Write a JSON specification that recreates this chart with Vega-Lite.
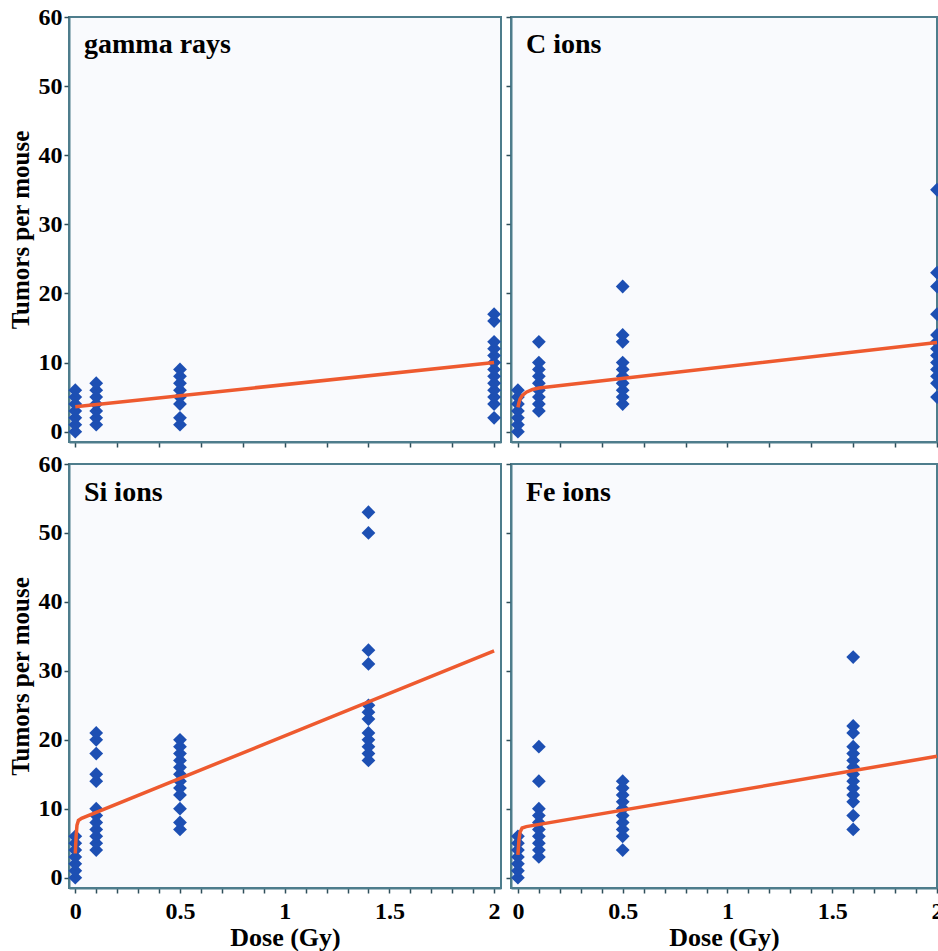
{
  "$schema": "https://vega.github.io/schema/vega-lite/v6.json",
  "background": "white",
  "padding": {"left": 7, "top": 4, "right": 0, "bottom": 0},
  "bounds": "flush",
  "columns": 2,
  "spacing": {"row": 22, "column": 10},
  "config": {
    "view": {"stroke": "#4e7d8c", "strokeWidth": 2, "fill": "#f9fafd"},
    "axis": {
      "domainColor": "#4e7d8c", "domainWidth": 2, "tickColor": "#2f4f5a", "tickWidth": 1.5, "tickSize": 5,
      "grid": false, "labelFont": "Liberation Serif", "labelFontSize": 24, "labelFontWeight": "bold", "labelColor": "black",
      "titleFont": "Liberation Serif", "titleFontSize": 25, "titleFontWeight": "bold", "titleColor": "black",
      "labelBound": false, "labelFlush": false
    },
    "title": {"font": "Liberation Serif", "fontSize": 28, "fontWeight": "bold", "color": "black", "anchor": "start", "frame": "group"}
  },
  "datasets": {
    "points": [
      {"panel": "gamma rays", "dose": 0, "tumors": 0}, {"panel": "gamma rays", "dose": 0, "tumors": 1}, {"panel": "gamma rays", "dose": 0, "tumors": 2}, {"panel": "gamma rays", "dose": 0, "tumors": 3}, {"panel": "gamma rays", "dose": 0, "tumors": 4}, {"panel": "gamma rays", "dose": 0, "tumors": 5}, {"panel": "gamma rays", "dose": 0, "tumors": 6},
      {"panel": "gamma rays", "dose": 0.1, "tumors": 1}, {"panel": "gamma rays", "dose": 0.1, "tumors": 2}, {"panel": "gamma rays", "dose": 0.1, "tumors": 3}, {"panel": "gamma rays", "dose": 0.1, "tumors": 4}, {"panel": "gamma rays", "dose": 0.1, "tumors": 5}, {"panel": "gamma rays", "dose": 0.1, "tumors": 6}, {"panel": "gamma rays", "dose": 0.1, "tumors": 7},
      {"panel": "gamma rays", "dose": 0.5, "tumors": 1}, {"panel": "gamma rays", "dose": 0.5, "tumors": 2}, {"panel": "gamma rays", "dose": 0.5, "tumors": 4}, {"panel": "gamma rays", "dose": 0.5, "tumors": 5}, {"panel": "gamma rays", "dose": 0.5, "tumors": 6}, {"panel": "gamma rays", "dose": 0.5, "tumors": 7}, {"panel": "gamma rays", "dose": 0.5, "tumors": 8}, {"panel": "gamma rays", "dose": 0.5, "tumors": 9},
      {"panel": "gamma rays", "dose": 2, "tumors": 2}, {"panel": "gamma rays", "dose": 2, "tumors": 4}, {"panel": "gamma rays", "dose": 2, "tumors": 5}, {"panel": "gamma rays", "dose": 2, "tumors": 6}, {"panel": "gamma rays", "dose": 2, "tumors": 7}, {"panel": "gamma rays", "dose": 2, "tumors": 8}, {"panel": "gamma rays", "dose": 2, "tumors": 9}, {"panel": "gamma rays", "dose": 2, "tumors": 10}, {"panel": "gamma rays", "dose": 2, "tumors": 11}, {"panel": "gamma rays", "dose": 2, "tumors": 12}, {"panel": "gamma rays", "dose": 2, "tumors": 13}, {"panel": "gamma rays", "dose": 2, "tumors": 16}, {"panel": "gamma rays", "dose": 2, "tumors": 17},

      {"panel": "C ions", "dose": 0, "tumors": 0}, {"panel": "C ions", "dose": 0, "tumors": 1}, {"panel": "C ions", "dose": 0, "tumors": 2}, {"panel": "C ions", "dose": 0, "tumors": 3}, {"panel": "C ions", "dose": 0, "tumors": 4}, {"panel": "C ions", "dose": 0, "tumors": 5}, {"panel": "C ions", "dose": 0, "tumors": 6},
      {"panel": "C ions", "dose": 0.1, "tumors": 3}, {"panel": "C ions", "dose": 0.1, "tumors": 4}, {"panel": "C ions", "dose": 0.1, "tumors": 5}, {"panel": "C ions", "dose": 0.1, "tumors": 6}, {"panel": "C ions", "dose": 0.1, "tumors": 7}, {"panel": "C ions", "dose": 0.1, "tumors": 8}, {"panel": "C ions", "dose": 0.1, "tumors": 9}, {"panel": "C ions", "dose": 0.1, "tumors": 10}, {"panel": "C ions", "dose": 0.1, "tumors": 13},
      {"panel": "C ions", "dose": 0.5, "tumors": 4}, {"panel": "C ions", "dose": 0.5, "tumors": 5}, {"panel": "C ions", "dose": 0.5, "tumors": 6}, {"panel": "C ions", "dose": 0.5, "tumors": 7}, {"panel": "C ions", "dose": 0.5, "tumors": 8}, {"panel": "C ions", "dose": 0.5, "tumors": 9}, {"panel": "C ions", "dose": 0.5, "tumors": 10}, {"panel": "C ions", "dose": 0.5, "tumors": 13}, {"panel": "C ions", "dose": 0.5, "tumors": 14}, {"panel": "C ions", "dose": 0.5, "tumors": 21},
      {"panel": "C ions", "dose": 2, "tumors": 5}, {"panel": "C ions", "dose": 2, "tumors": 7}, {"panel": "C ions", "dose": 2, "tumors": 8}, {"panel": "C ions", "dose": 2, "tumors": 9}, {"panel": "C ions", "dose": 2, "tumors": 10}, {"panel": "C ions", "dose": 2, "tumors": 11}, {"panel": "C ions", "dose": 2, "tumors": 12}, {"panel": "C ions", "dose": 2, "tumors": 13}, {"panel": "C ions", "dose": 2, "tumors": 14}, {"panel": "C ions", "dose": 2, "tumors": 17}, {"panel": "C ions", "dose": 2, "tumors": 21}, {"panel": "C ions", "dose": 2, "tumors": 23}, {"panel": "C ions", "dose": 2, "tumors": 35},

      {"panel": "Si ions", "dose": 0, "tumors": 0}, {"panel": "Si ions", "dose": 0, "tumors": 1}, {"panel": "Si ions", "dose": 0, "tumors": 2}, {"panel": "Si ions", "dose": 0, "tumors": 3}, {"panel": "Si ions", "dose": 0, "tumors": 4}, {"panel": "Si ions", "dose": 0, "tumors": 5}, {"panel": "Si ions", "dose": 0, "tumors": 6},
      {"panel": "Si ions", "dose": 0.1, "tumors": 4}, {"panel": "Si ions", "dose": 0.1, "tumors": 5}, {"panel": "Si ions", "dose": 0.1, "tumors": 6}, {"panel": "Si ions", "dose": 0.1, "tumors": 7}, {"panel": "Si ions", "dose": 0.1, "tumors": 8}, {"panel": "Si ions", "dose": 0.1, "tumors": 9}, {"panel": "Si ions", "dose": 0.1, "tumors": 10}, {"panel": "Si ions", "dose": 0.1, "tumors": 14}, {"panel": "Si ions", "dose": 0.1, "tumors": 15}, {"panel": "Si ions", "dose": 0.1, "tumors": 18}, {"panel": "Si ions", "dose": 0.1, "tumors": 20}, {"panel": "Si ions", "dose": 0.1, "tumors": 21},
      {"panel": "Si ions", "dose": 0.5, "tumors": 7}, {"panel": "Si ions", "dose": 0.5, "tumors": 8}, {"panel": "Si ions", "dose": 0.5, "tumors": 10}, {"panel": "Si ions", "dose": 0.5, "tumors": 12}, {"panel": "Si ions", "dose": 0.5, "tumors": 13}, {"panel": "Si ions", "dose": 0.5, "tumors": 14}, {"panel": "Si ions", "dose": 0.5, "tumors": 15}, {"panel": "Si ions", "dose": 0.5, "tumors": 16}, {"panel": "Si ions", "dose": 0.5, "tumors": 17}, {"panel": "Si ions", "dose": 0.5, "tumors": 18}, {"panel": "Si ions", "dose": 0.5, "tumors": 19}, {"panel": "Si ions", "dose": 0.5, "tumors": 20},
      {"panel": "Si ions", "dose": 1.4, "tumors": 17}, {"panel": "Si ions", "dose": 1.4, "tumors": 18}, {"panel": "Si ions", "dose": 1.4, "tumors": 19}, {"panel": "Si ions", "dose": 1.4, "tumors": 20}, {"panel": "Si ions", "dose": 1.4, "tumors": 21}, {"panel": "Si ions", "dose": 1.4, "tumors": 23}, {"panel": "Si ions", "dose": 1.4, "tumors": 24}, {"panel": "Si ions", "dose": 1.4, "tumors": 25}, {"panel": "Si ions", "dose": 1.4, "tumors": 31}, {"panel": "Si ions", "dose": 1.4, "tumors": 33}, {"panel": "Si ions", "dose": 1.4, "tumors": 50}, {"panel": "Si ions", "dose": 1.4, "tumors": 53},

      {"panel": "Fe ions", "dose": 0, "tumors": 0}, {"panel": "Fe ions", "dose": 0, "tumors": 1}, {"panel": "Fe ions", "dose": 0, "tumors": 2}, {"panel": "Fe ions", "dose": 0, "tumors": 3}, {"panel": "Fe ions", "dose": 0, "tumors": 4}, {"panel": "Fe ions", "dose": 0, "tumors": 5}, {"panel": "Fe ions", "dose": 0, "tumors": 6},
      {"panel": "Fe ions", "dose": 0.1, "tumors": 3}, {"panel": "Fe ions", "dose": 0.1, "tumors": 4}, {"panel": "Fe ions", "dose": 0.1, "tumors": 5}, {"panel": "Fe ions", "dose": 0.1, "tumors": 6}, {"panel": "Fe ions", "dose": 0.1, "tumors": 7}, {"panel": "Fe ions", "dose": 0.1, "tumors": 8}, {"panel": "Fe ions", "dose": 0.1, "tumors": 9}, {"panel": "Fe ions", "dose": 0.1, "tumors": 10}, {"panel": "Fe ions", "dose": 0.1, "tumors": 14}, {"panel": "Fe ions", "dose": 0.1, "tumors": 19},
      {"panel": "Fe ions", "dose": 0.5, "tumors": 4}, {"panel": "Fe ions", "dose": 0.5, "tumors": 6}, {"panel": "Fe ions", "dose": 0.5, "tumors": 7}, {"panel": "Fe ions", "dose": 0.5, "tumors": 8}, {"panel": "Fe ions", "dose": 0.5, "tumors": 9}, {"panel": "Fe ions", "dose": 0.5, "tumors": 10}, {"panel": "Fe ions", "dose": 0.5, "tumors": 11}, {"panel": "Fe ions", "dose": 0.5, "tumors": 12}, {"panel": "Fe ions", "dose": 0.5, "tumors": 13}, {"panel": "Fe ions", "dose": 0.5, "tumors": 14},
      {"panel": "Fe ions", "dose": 1.6, "tumors": 7}, {"panel": "Fe ions", "dose": 1.6, "tumors": 9}, {"panel": "Fe ions", "dose": 1.6, "tumors": 11}, {"panel": "Fe ions", "dose": 1.6, "tumors": 12}, {"panel": "Fe ions", "dose": 1.6, "tumors": 13}, {"panel": "Fe ions", "dose": 1.6, "tumors": 14}, {"panel": "Fe ions", "dose": 1.6, "tumors": 15}, {"panel": "Fe ions", "dose": 1.6, "tumors": 16}, {"panel": "Fe ions", "dose": 1.6, "tumors": 17}, {"panel": "Fe ions", "dose": 1.6, "tumors": 18}, {"panel": "Fe ions", "dose": 1.6, "tumors": 19}, {"panel": "Fe ions", "dose": 1.6, "tumors": 21}, {"panel": "Fe ions", "dose": 1.6, "tumors": 22}, {"panel": "Fe ions", "dose": 1.6, "tumors": 32}
    ],
    "fits": [
      {"panel": "gamma rays", "dose": 0, "tumors": 3.6}, {"panel": "gamma rays", "dose": 2, "tumors": 10.0},
      {"panel": "C ions", "dose": 0, "tumors": 3.5}, {"panel": "C ions", "dose": 0.005, "tumors": 4.2}, {"panel": "C ions", "dose": 0.01, "tumors": 4.7}, {"panel": "C ions", "dose": 0.02, "tumors": 5.2}, {"panel": "C ions", "dose": 0.04, "tumors": 5.7}, {"panel": "C ions", "dose": 0.07, "tumors": 6.1}, {"panel": "C ions", "dose": 0.1, "tumors": 6.3}, {"panel": "C ions", "dose": 2, "tumors": 12.9},
      {"panel": "Si ions", "dose": 0, "tumors": 3.5}, {"panel": "Si ions", "dose": 0.004, "tumors": 6.0}, {"panel": "Si ions", "dose": 0.008, "tumors": 7.6}, {"panel": "Si ions", "dose": 0.015, "tumors": 8.3}, {"panel": "Si ions", "dose": 0.03, "tumors": 8.6}, {"panel": "Si ions", "dose": 2, "tumors": 32.9},
      {"panel": "Fe ions", "dose": 0, "tumors": 3.3}, {"panel": "Fe ions", "dose": 0.005, "tumors": 5.5}, {"panel": "Fe ions", "dose": 0.01, "tumors": 6.6}, {"panel": "Fe ions", "dose": 0.02, "tumors": 7.2}, {"panel": "Fe ions", "dose": 0.04, "tumors": 7.4}, {"panel": "Fe ions", "dose": 2, "tumors": 17.6}
    ]
  },
  "concat": [
    {
      "width": 432, "height": 425,
      "title": {"text": "gamma rays", "offset": -54, "dx": 15},
      "layer": [
        {"data": {"name": "points"}, "transform": [{"filter": "datum.panel === 'gamma rays'"}],
         "mark": {"type": "point", "shape": "diamond", "filled": true, "size": 190, "color": "#1d4fb3", "opacity": 1},
         "encoding": {
           "x": {"field": "dose", "type": "quantitative", "scale": {"domain": [-0.03, 2.033], "nice": false, "zero": false},
                 "axis": {"values": [0,0.1,0.2,0.3,0.4,0.5,0.6,0.7,0.8,0.9,1,1.1,1.2,1.3,1.4,1.5,1.6,1.7,1.8,1.9,2], "labels": false, "title": null}},
           "y": {"field": "tumors", "type": "quantitative", "scale": {"domain": [-1.5, 60], "nice": false, "zero": false},
                 "axis": {"values": [0,5,10,15,20,25,30,35,40,45,50,55,60], "format": "d", "labelExpr": "datum.value % 10 === 0 ? datum.label : ''", "labelPadding": 2, "title": "Tumors per mouse", "titlePadding": 5}}
         }},
        {"data": {"name": "fits"}, "transform": [{"filter": "datum.panel === 'gamma rays'"}],
         "mark": {"type": "line", "color": "#ee5a2f", "strokeWidth": 3.5},
         "encoding": {"x": {"field": "dose", "type": "quantitative"}, "y": {"field": "tumors", "type": "quantitative"}}}
      ]
    },
    {
      "width": 426, "height": 425,
      "title": {"text": "C ions", "offset": -43, "dx": 15},
      "layer": [
        {"data": {"name": "points"}, "transform": [{"filter": "datum.panel === 'C ions'"}],
         "mark": {"type": "point", "shape": "diamond", "filled": true, "size": 190, "color": "#1d4fb3", "opacity": 1},
         "encoding": {
           "x": {"field": "dose", "type": "quantitative", "scale": {"domain": [-0.033, 2.0], "nice": false, "zero": false},
                 "axis": {"values": [0,0.1,0.2,0.3,0.4,0.5,0.6,0.7,0.8,0.9,1,1.1,1.2,1.3,1.4,1.5,1.6,1.7,1.8,1.9,2], "labels": false, "title": null}},
           "y": {"field": "tumors", "type": "quantitative", "scale": {"domain": [-1.5, 60], "nice": false, "zero": false},
                 "axis": {"values": [0,5,10,15,20,25,30,35,40,45,50,55,60], "labels": false, "title": null}}
         }},
        {"data": {"name": "fits"}, "transform": [{"filter": "datum.panel === 'C ions'"}],
         "mark": {"type": "line", "color": "#ee5a2f", "strokeWidth": 3.5},
         "encoding": {"x": {"field": "dose", "type": "quantitative"}, "y": {"field": "tumors", "type": "quantitative"}}}
      ]
    },
    {
      "width": 432, "height": 424,
      "title": {"text": "Si ions", "offset": -55, "dx": 15},
      "resolve": {"axis": {"x": "independent"}},
      "layer": [
        {"data": {"name": "points"}, "transform": [{"filter": "datum.panel === 'Si ions'"}],
         "mark": {"type": "point", "shape": "diamond", "filled": true, "size": 190, "color": "#1d4fb3", "opacity": 1},
         "encoding": {
           "x": {"field": "dose", "type": "quantitative", "scale": {"domain": [-0.03, 2.033], "nice": false, "zero": false},
                 "axis": {"orient": "bottom", "values": [0,0.1,0.2,0.3,0.4,0.5,0.6,0.7,0.8,0.9,1,1.1,1.2,1.3,1.4,1.5,1.6,1.7,1.8,1.9,2], "labels": false, "title": null}},
           "y": {"field": "tumors", "type": "quantitative", "scale": {"domain": [-1.5, 60], "nice": false, "zero": false},
                 "axis": {"values": [0,5,10,15,20,25,30,35,40,45,50,55,60], "format": "d", "labelExpr": "datum.value % 10 === 0 ? datum.label : ''", "labelPadding": 2, "title": "Tumors per mouse", "titlePadding": 5}}
         }},
        {"data": {"name": "fits"}, "transform": [{"filter": "datum.panel === 'Si ions'"}],
         "mark": {"type": "line", "color": "#ee5a2f", "strokeWidth": 3.5},
         "encoding": {
           "x": {"field": "dose", "type": "quantitative",
                 "axis": {"orient": "bottom", "values": [0, 0.5, 1, 1.5, 2], "format": "~g", "ticks": false, "domain": false, "labelOverlap": false, "labelPadding": 11, "title": "Dose (Gy)", "titlePadding": 1, "titleFontSize": 26}},
           "y": {"field": "tumors", "type": "quantitative"}}}
      ]
    },
    {
      "width": 426, "height": 424,
      "title": {"text": "Fe ions", "offset": -44, "dx": 15},
      "resolve": {"axis": {"x": "independent"}},
      "layer": [
        {"data": {"name": "points"}, "transform": [{"filter": "datum.panel === 'Fe ions'"}],
         "mark": {"type": "point", "shape": "diamond", "filled": true, "size": 190, "color": "#1d4fb3", "opacity": 1},
         "encoding": {
           "x": {"field": "dose", "type": "quantitative", "scale": {"domain": [-0.033, 2.0], "nice": false, "zero": false},
                 "axis": {"orient": "bottom", "values": [0,0.1,0.2,0.3,0.4,0.5,0.6,0.7,0.8,0.9,1,1.1,1.2,1.3,1.4,1.5,1.6,1.7,1.8,1.9,2], "labels": false, "title": null}},
           "y": {"field": "tumors", "type": "quantitative", "scale": {"domain": [-1.5, 60], "nice": false, "zero": false},
                 "axis": {"values": [0,5,10,15,20,25,30,35,40,45,50,55,60], "labels": false, "title": null}}
         }},
        {"data": {"name": "fits"}, "transform": [{"filter": "datum.panel === 'Fe ions'"}],
         "mark": {"type": "line", "color": "#ee5a2f", "strokeWidth": 3.5},
         "encoding": {
           "x": {"field": "dose", "type": "quantitative",
                 "axis": {"orient": "bottom", "values": [0, 0.5, 1, 1.5, 2], "format": "~g", "ticks": false, "domain": false, "labelOverlap": false, "labelPadding": 11, "title": "Dose (Gy)", "titlePadding": 1, "titleFontSize": 26}},
           "y": {"field": "tumors", "type": "quantitative"}}}
      ]
    }
  ]
}
